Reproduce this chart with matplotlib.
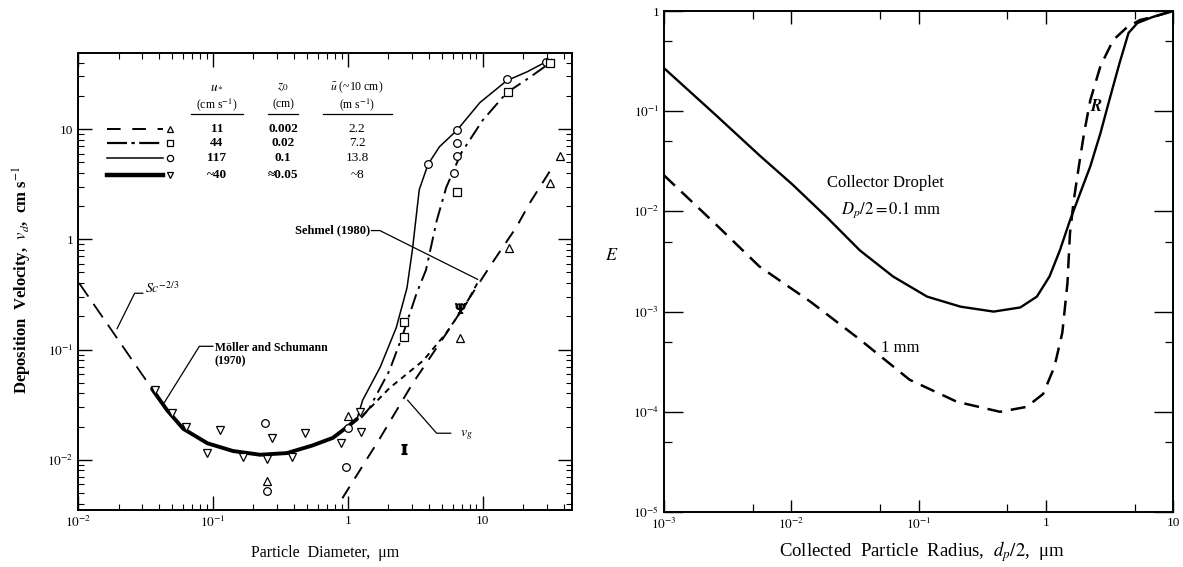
import numpy as np
import matplotlib
matplotlib.use("Agg")
import matplotlib.pyplot as plt
from matplotlib.ticker import LogLocator, FuncFormatter, NullFormatter

plt.rcParams['font.family'] = ['Liberation Serif', 'DejaVu Serif']
plt.rcParams['mathtext.fontset'] = 'stix'

# ---------------- Left panel data (particle diameter um, deposition velocity cm/s) ----------------
sc_d = [0.0102, 0.0355]
sc_v = [0.40, 0.0437]

thick_d = [0.0355, 0.0457, 0.0603, 0.0912, 0.141, 0.224, 0.355, 0.550, 0.776, 1.02, 1.17]
thick_v = [0.0437, 0.0282, 0.0191, 0.0141, 0.0120, 0.0111, 0.0115, 0.0135, 0.0158, 0.0204, 0.0234]

thin_d = [1.17, 1.29, 1.74, 2.29, 2.75, 3.02, 3.39, 3.94, 4.79, 6.46, 9.55, 15.1, 21.4, 29.5, 32.4]
thin_v = [0.0234, 0.0347, 0.0692, 0.158, 0.363, 0.813, 2.82, 4.79, 6.92, 9.77, 17.4, 27.5, 33.1, 40.7, 42.7]

dashdot_d = [1.26, 1.45, 2.04, 2.57, 3.24, 3.80, 4.57, 5.37, 6.92, 10.0, 15.1, 22.4, 31.6]
dashdot_v = [0.0240, 0.0295, 0.0646, 0.138, 0.324, 0.525, 1.48, 2.95, 6.03, 12.0, 21.4, 29.5, 39.8]

short_d = [1.29, 2.04, 3.63, 5.37, 7.59, 9.12]
short_v = [0.0251, 0.0447, 0.0794, 0.141, 0.263, 0.398]

vg_d = [0.912, 1.74, 3.02, 5.75, 11.7, 17.8, 22.4, 31.6]
vg_v = [0.00447, 0.0158, 0.0490, 0.158, 0.603, 1.29, 2.14, 4.17]

tri_dn_d = [0.0372, 0.0501, 0.0631, 0.0912, 0.112, 0.166, 0.251, 0.275, 0.389, 0.479, 0.891, 1.23, 1.26]
tri_dn_v = [0.0427, 0.0263, 0.0200, 0.0115, 0.0186, 0.0107, 0.0102, 0.0158, 0.0105, 0.0174, 0.0141, 0.0269, 0.0178]

circ_d = [0.245, 0.251, 1.0, 0.977, 3.94, 6.17, 6.46, 6.46, 6.46, 15.1, 29.5]
circ_v = [0.0214, 0.00525, 0.0195, 0.00851, 4.79, 3.98, 5.75, 7.41, 9.77, 28.2, 40.7]

tri_up_d = [0.251, 1.0, 6.76, 15.8, 31.6, 37.2]
tri_up_v = [0.00646, 0.0251, 0.126, 0.832, 3.24, 5.75]

sq_d = [2.63, 2.63, 6.46, 15.5, 31.6]
sq_v = [0.178, 0.129, 2.69, 21.9, 39.8]

odd_d = [2.63, 6.76]
odd_v = [0.0126, 0.240]

legend_u = ['11', '44', '117', '~40']
legend_z0 = ['0.002', '0.02', '0.1', '\u22480.05']
legend_U = ['2.2', '7.2', '13.8', '~8']

# ---------------- Right panel data (collected particle radius um, efficiency E) ----------------
r_solid = [0.001, 0.00251, 0.00562, 0.0102, 0.0191, 0.0347, 0.0631, 0.117, 0.214, 0.389, 0.631,
           0.851, 1.07, 1.29, 1.55, 1.86, 2.24, 2.69, 3.16, 3.80, 4.47, 5.25, 6.92, 10.0]
E_solid = [0.269, 0.0933, 0.0363, 0.0186, 0.00871, 0.00407, 0.00224, 0.00141, 0.00112, 0.00100, 0.00110,
           0.00141, 0.00224, 0.00407, 0.00813, 0.0151, 0.0282, 0.0603, 0.129, 0.302, 0.603, 0.759, 0.871, 1.0]

r_dash = [0.001, 0.00251, 0.00562, 0.0141, 0.0347, 0.0851, 0.200, 0.437, 0.708, 0.955, 1.17, 1.35,
          1.48, 1.55, 1.66, 1.82, 2.00, 2.24, 2.69, 3.39, 4.37, 5.50, 6.92, 10.0]
E_dash = [0.0229, 0.00759, 0.00282, 0.00126, 0.000525, 0.000209, 0.000126, 0.000100, 0.000112, 0.000151,
          0.000282, 0.000617, 0.00191, 0.00603, 0.0129, 0.0282, 0.0603, 0.129, 0.282, 0.513, 0.692, 0.813,
          0.871, 1.0]


def logfmt(v, pos):
    e = int(round(np.log10(v)))
    if e == 0:
        return '1'
    if e == 1:
        return '10'
    return r'$10^{%d}$' % e


fig = plt.figure(figsize=(11.83, 5.67), dpi=100)

# ================= Left panel =================
ax = fig.add_axes([78 / 1183, 1 - 510 / 567, 494 / 1183, 457 / 567])
ax.set_xscale('log')
ax.set_yscale('log')
ax.set_xlim(0.01, 46)
ax.set_ylim(0.0035, 49)

ax.plot(sc_d, sc_v, color='black', lw=1.3, dashes=(9, 5))
ax.plot(thick_d, thick_v, color='black', lw=2.8, solid_capstyle='round')
ax.plot(thin_d, thin_v, color='black', lw=1.1)
ax.plot(dashdot_d, dashdot_v, color='black', lw=1.4, dashes=(8, 3, 1.5, 3))
ax.plot(short_d, short_v, color='black', lw=1.4, dashes=(3, 2.5))
ax.plot(vg_d, vg_v, color='black', lw=1.4, dashes=(7, 5))

mk = dict(ls='none', mfc='white', mec='black', mew=0.9, ms=5.5)
ax.plot(tri_dn_d, tri_dn_v, marker='v', **mk)
ax.plot(circ_d, circ_v, marker='o', **mk)
ax.plot(tri_up_d, tri_up_v, marker='^', **mk)
ax.plot(sq_d, sq_v, marker='s', **mk)
ax.plot(odd_d[:1], odd_v[:1], ls='none', marker='$\\mathbf{I}$', color='black', ms=7)
ax.plot(odd_d[1:], odd_v[1:], ls='none', marker='$\\Psi$', color='black', ms=7)

ax.tick_params(which='both', direction='in', top=True, right=True, labelsize=9.5)
ax.tick_params(which='major', length=10, width=1.0)
ax.tick_params(which='minor', length=4, width=0.8)
ax.xaxis.set_major_locator(LogLocator(base=10, numticks=10))
ax.yaxis.set_major_locator(LogLocator(base=10, numticks=10))
ax.xaxis.set_minor_locator(LogLocator(base=10, subs=np.arange(2, 10), numticks=20))
ax.yaxis.set_minor_locator(LogLocator(base=10, subs=np.arange(2, 10), numticks=20))
ax.xaxis.set_major_formatter(FuncFormatter(logfmt))
ax.yaxis.set_major_formatter(FuncFormatter(logfmt))
ax.xaxis.set_minor_formatter(NullFormatter())
ax.yaxis.set_minor_formatter(NullFormatter())
for s in ax.spines.values():
    s.set_linewidth(1.4)

# annotations
ax.text(0.0316, 0.36, r'$Sc^{-2/3}$', fontsize=10, ha='left', va='center')
ax.plot([0.0195, 0.0263, 0.0302], [0.155, 0.324, 0.324], color='black', lw=0.9)
ax.text(0.103, 0.118, 'Möller and Schumann\n(1970)', fontsize=8.5, fontweight='bold',
        ha='left', va='top', linespacing=1.2)
ax.plot([0.0437, 0.0794, 0.1], [0.0331, 0.107, 0.107], color='black', lw=0.9)
ax.text(1.46, 1.2, 'Sehmel (1980)', fontsize=9, fontweight='bold', ha='right', va='center')
ax.plot([1.5, 1.73, 9.18], [1.2, 1.2, 0.433], color='black', lw=0.9)
ax.text(6.76, 0.0166, r'$v_g$', fontsize=10, ha='left', va='center')
ax.plot([2.78, 4.56, 5.8], [0.0347, 0.0174, 0.0174], color='black', lw=0.9)

# legend table
rows_y = [0.834, 0.803, 0.770, 0.733]
styles = [dict(lw=1.4, dashes=(7, 6)), dict(lw=1.6, dashes=(9, 2, 1.5, 2)),
          dict(lw=1.1), dict(lw=3.2)]
markers = ['^', 's', 'o', 'v']
for yy, st, m, u, z, U in zip(rows_y, styles, markers, legend_u, legend_z0, legend_U):
    ax.plot([0.059, 0.172], [yy, yy], color='black', transform=ax.transAxes, **st)
    ax.plot([0.186], [yy], marker=m, transform=ax.transAxes, ls='none',
            mfc='white', mec='black', mew=0.9, ms=4.5)
    ax.text(0.281, yy, u, transform=ax.transAxes, fontsize=9.5, ha='center', va='center', fontweight='bold')
    ax.text(0.415, yy, z, transform=ax.transAxes, fontsize=9.5, ha='center', va='center', fontweight='bold')
    ax.text(0.565, yy, U, transform=ax.transAxes, fontsize=9.5, ha='center', va='center')

ax.text(0.281, 0.925, r'$u_*$', transform=ax.transAxes, fontsize=9.5, ha='center', va='center')
ax.text(0.281, 0.888, r'(cm s$^{-1}$)', transform=ax.transAxes, fontsize=8.5, ha='center', va='center')
ax.text(0.415, 0.925, r'$z_0$', transform=ax.transAxes, fontsize=9.5, ha='center', va='center')
ax.text(0.415, 0.888, '(cm)', transform=ax.transAxes, fontsize=8.5, ha='center', va='center')
ax.text(0.565, 0.925, r'$\bar{u}$ (~10 cm)', transform=ax.transAxes, fontsize=8.5, ha='center', va='center')
ax.text(0.565, 0.888, r'(m s$^{-1}$)', transform=ax.transAxes, fontsize=8.5, ha='center', va='center')
for x0, x1 in [(0.228, 0.334), (0.385, 0.445), (0.495, 0.635)]:
    ax.plot([x0, x1], [0.866, 0.866], color='black', lw=0.9, transform=ax.transAxes)

fig.text(22 / 1183, 1 - 280 / 567, r'Deposition  Velocity,  $v_d$,  cm s$^{-1}$',
         rotation=90, ha='center', va='center', fontsize=12, fontweight='bold')
fig.text(325 / 1183, 1 - 553 / 567, 'Particle  Diameter,  μm', ha='center', va='center',
         fontsize=11.5)

# ================= Right panel =================
ax2 = fig.add_axes([664 / 1183, 1 - 512 / 567, 509 / 1183, 501 / 567])
ax2.set_xscale('log')
ax2.set_yscale('log')
ax2.set_xlim(1e-3, 10)
ax2.set_ylim(1e-5, 1)

ax2.plot(r_solid, E_solid, color='black', lw=1.7)
ax2.plot(r_dash, E_dash, color='black', lw=1.8, dashes=(6, 3.5))

ax2.tick_params(which='both', direction='in', top=True, right=True, labelsize=9.5)
ax2.tick_params(axis='y', which='major', length=14, width=1.0)
ax2.tick_params(axis='x', which='major', length=9, width=1.0)
ax2.tick_params(which='minor', length=6, width=0.9)
ax2.xaxis.set_major_locator(LogLocator(base=10, numticks=10))
ax2.yaxis.set_major_locator(LogLocator(base=10, numticks=10))
ax2.xaxis.set_minor_locator(LogLocator(base=10, subs=(5,), numticks=20))
ax2.yaxis.set_minor_locator(LogLocator(base=10, subs=(5,), numticks=20))
ax2.xaxis.set_major_formatter(FuncFormatter(logfmt))
ax2.yaxis.set_major_formatter(FuncFormatter(logfmt))
ax2.xaxis.set_minor_formatter(NullFormatter())
ax2.yaxis.set_minor_formatter(NullFormatter())
for s in ax2.spines.values():
    s.set_linewidth(1.4)

ax2.text(0.0546, 0.0192, 'Collector Droplet', fontsize=12, ha='center', va='center')
ax2.text(0.0608, 0.0103, r'$D_p/2 = 0.1$ mm', fontsize=12, ha='center', va='center')
ax2.text(0.072, 0.00043, '1 mm', fontsize=12, ha='center', va='center')
ax2.text(2.51, 0.11, r'$\boldsymbol{R}$', fontsize=12, ha='center', va='center')

fig.text(612 / 1183, 1 - 255 / 567, r'$E$', ha='center', va='center', fontsize=13)
fig.text(922 / 1183, 1 - 552 / 567, r'Collected  Particle  Radius,  $d_p/2$,  μm',
         ha='center', va='center', fontsize=13.5)

fig.savefig('out.png', dpi=100)
